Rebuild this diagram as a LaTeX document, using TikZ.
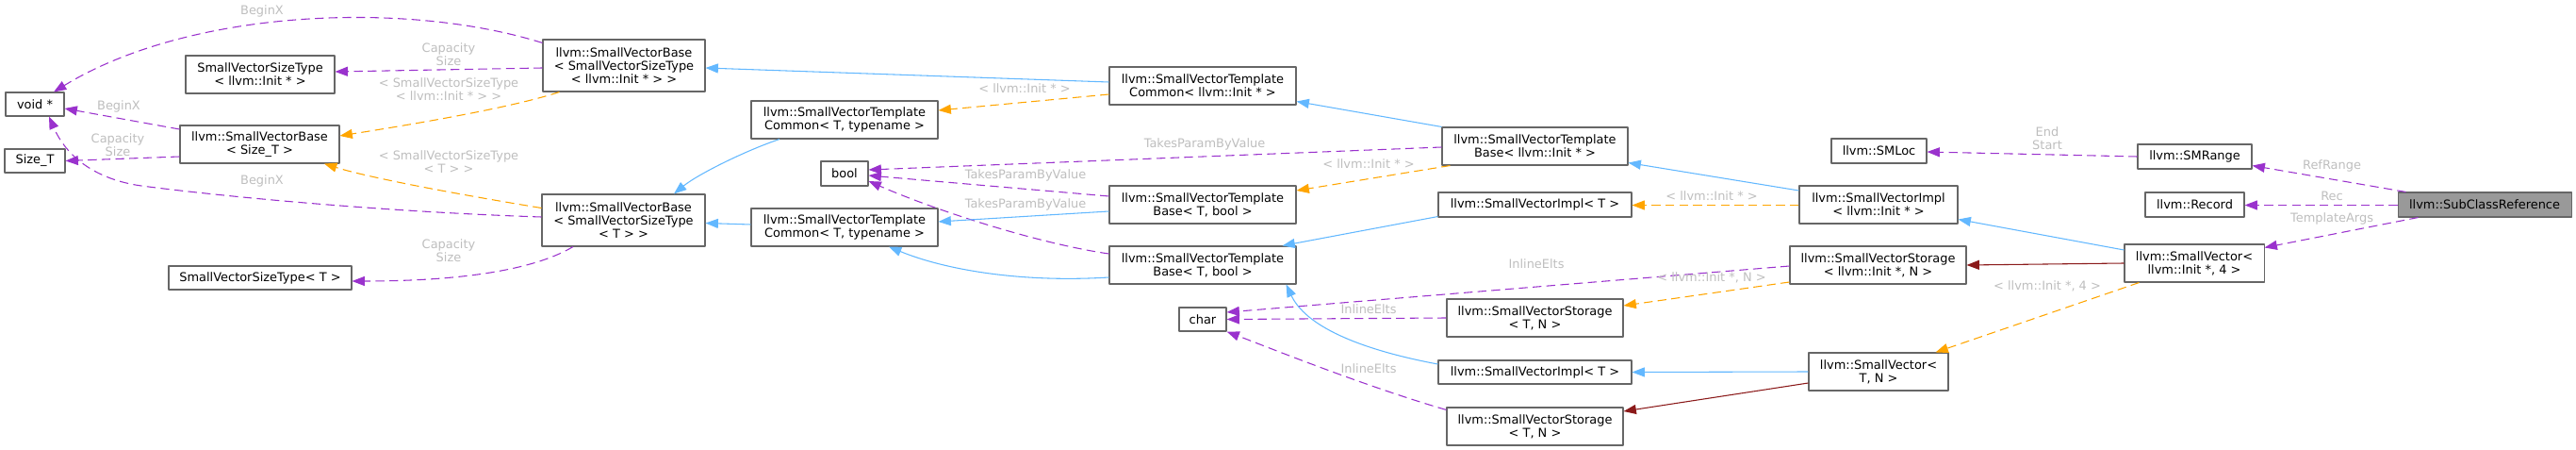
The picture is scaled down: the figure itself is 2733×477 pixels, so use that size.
\documentclass[tikz,border=0pt]{standalone}
\usepackage{fontspec}
\setmainfont{DejaVu Sans}
\usetikzlibrary{arrows.meta}
\definecolor{usagec}{HTML}{9A32CD}
\definecolor{instc}{HTML}{FFA500}
\definecolor{inhc}{HTML}{63B8FF}
\definecolor{privc}{HTML}{8B1A1A}
\definecolor{edgec}{HTML}{BEBEBE}
\definecolor{boxc}{HTML}{666666}
\definecolor{mainc}{HTML}{999999}
\newcommand{\nodefont}{\fontsize{9.7}{10.5}\selectfont}
\begin{document}
\begin{tikzpicture}[x=0.75pt,y=-0.75pt,line join=round,>={Triangle[length=10pt,width=7.5pt]},
	cls/.style={draw=boxc,line width=0.8pt,fill=white,inner sep=0pt,align=center,font=\nodefont},
	usage/.style={->,usagec,line width=0.8pt,dash pattern=on 7pt off 4pt},
	inst/.style={->,instc,line width=0.8pt,dash pattern=on 7pt off 4pt},
	inh/.style={->,inhc,line width=0.8pt},
	priv/.style={->,privc,line width=0.8pt},
	lbl/.style={text=edgec,align=center,inner sep=0pt,font=\nodefont}]
		\def\px{0.75pt}
		\useasboundingbox (0,0) rectangle (2733,477);
		% classes
		\node[cls,minimum width=62*\px,minimum height=25*\px] (voidp) at (37,110.5) {void *};
		\node[cls,minimum width=64*\px,minimum height=25*\px] (sizet) at (37,170.5) {Size\_T};
		\node[cls,minimum width=158*\px,minimum height=40*\px] (svstInit) at (276,79) {SmallVectorSizeType\\< llvm::Init * >};
		\node[cls,minimum width=169*\px,minimum height=40*\px] (svbSizeT) at (275.5,153) {llvm::SmallVectorBase\\< Size\_T >};
		\node[cls,minimum width=194*\px,minimum height=25*\px] (svstT) at (276,294.5) {SmallVectorSizeType< T >};
		\node[cls,minimum width=172*\px,minimum height=55*\px] (svbInit) at (662,69.5) {llvm::SmallVectorBase\\< SmallVectorSizeType\\< llvm::Init * > >};
		\node[cls,minimum width=173*\px,minimum height=55*\px] (svbT) at (661.5,233.5) {llvm::SmallVectorBase\\< SmallVectorSizeType\\< T > >};
		\node[cls,minimum width=198*\px,minimum height=40*\px] (svtcT) at (896,127) {llvm::SmallVectorTemplate\\Common< T, typename >};
		\node[cls,minimum width=50*\px,minimum height=26*\px] (bool) at (896,184) {bool};
		\node[cls,minimum width=198*\px,minimum height=40*\px] (svtcTb) at (896,241) {llvm::SmallVectorTemplate\\Common< T, typename >};
		\node[cls,minimum width=198*\px,minimum height=40*\px] (svtcInit) at (1276,91) {llvm::SmallVectorTemplate\\Common< llvm::Init * >};
		\node[cls,minimum width=198*\px,minimum height=40*\px] (svtbT) at (1276,217) {llvm::SmallVectorTemplate\\Base< T, bool >};
		\node[cls,minimum width=198*\px,minimum height=40*\px] (svtbTb) at (1276,281) {llvm::SmallVectorTemplate\\Base< T, bool >};
		\node[cls,minimum width=50*\px,minimum height=25*\px] (char) at (1276,338.5) {char};
		\node[cls,minimum width=197*\px,minimum height=40*\px] (svtbInit) at (1628.5,155) {llvm::SmallVectorTemplate\\Base< llvm::Init * >};
		\node[cls,minimum width=205*\px,minimum height=26*\px] (sviT) at (1628.5,217) {llvm::SmallVectorImpl< T >};
		\node[cls,minimum width=187*\px,minimum height=40*\px] (svsTN) at (1628.5,337) {llvm::SmallVectorStorage\\< T, N >};
		\node[cls,minimum width=205*\px,minimum height=25*\px] (sviTb) at (1628.5,394.5) {llvm::SmallVectorImpl< T >};
		\node[cls,minimum width=187*\px,minimum height=40*\px] (svsTNb) at (1628.5,452) {llvm::SmallVectorStorage\\< T, N >};
		\node[cls,minimum width=101*\px,minimum height=26*\px] (smloc) at (1993.5,160) {llvm::SMLoc};
		\node[cls,minimum width=168*\px,minimum height=40*\px] (sviInit) at (1993,217) {llvm::SmallVectorImpl\\< llvm::Init * >};
		\node[cls,minimum width=187*\px,minimum height=40*\px] (svsInitN) at (1992.5,281) {llvm::SmallVectorStorage\\< llvm::Init *, N >};
		\node[cls,minimum width=148*\px,minimum height=40*\px] (svTN) at (1993,394) {llvm::SmallVector<\\T, N >};
		\node[cls,minimum width=121*\px,minimum height=26*\px] (smrange) at (2328.5,166) {llvm::SMRange};
		\node[cls,minimum width=105*\px,minimum height=26*\px] (record) at (2328.5,217) {llvm::Record};
		\node[cls,minimum width=148*\px,minimum height=40*\px] (svInit4) at (2328,279) {llvm::SmallVector<\\llvm::Init *, 4 >};
		\node[cls,fill=mainc,minimum width=184*\px,minimum height=26*\px] (subclass) at (2636,217) {llvm::SubClassReference};
		% members
		\draw[usage] ([shift={(0,4)}]svbInit.north west) .. controls (430,0) and (200,10) .. ([shift={(20,0)}]voidp.north);
		\draw[usage] ([shift={(0,2.5)}]svbInit.west) -- ([shift={(0,-3)}]svstInit.east);
		\draw[usage] ([shift={(0,-16)}]svbSizeT.west) -- ([shift={(0,4.5)}]voidp.east);
		\draw[usage] ([shift={(0,13)}]svbSizeT.west) -- (sizet.east);
		\draw[usage] ([shift={(0,-3.5)}]svbT.west) .. controls (420,225) and (250,210) .. (150,197) .. controls (100,190) and (70,165) .. ([shift={(15,0)}]voidp.south);
		\draw[usage] ([shift={(-53.5,0)}]svbT.south) .. controls (560,290) and (470,298) .. ([shift={(0,3.5)}]svstT.east);
		\draw[usage] ([shift={(0,1)}]svtbInit.west) -- ([shift={(0,-4)}]bool.east);
		\draw[usage] ([shift={(0,-9)}]svtbT.west) -- ([shift={(0,2)}]bool.east);
		\draw[usage] ([shift={(0,-12)}]svtbTb.west) .. controls (1100,258) and (990,222) .. ([shift={(0,8)}]bool.east);
		\draw[usage] ([shift={(0,1)}]svsInitN.west) -- ([shift={(0,-7.5)}]char.east);
		\draw[usage] (svsTN.west) -- (char.east);
		\draw[usage] ([shift={(0,3)}]svsTNb.north west) .. controls (1450,410) and (1350,370) .. (char.south east);
		\draw[usage] (smrange.west) -- ([shift={(0,1)}]smloc.east);
		\draw[usage] ([shift={(9,0)}]subclass.north west) -- ([shift={(0,-4)}]smrange.south east);
		\draw[usage] ([shift={(0,0.5)}]subclass.west) -- ([shift={(0,0.5)}]record.east);
		\draw[usage] ([shift={(22,0)}]subclass.south west) -- ([shift={(0,4)}]svInit4.north east);
		% template instances
		\draw[inst] ([shift={(18,0)}]svbInit.south west) .. controls (540,115) and (430,133) .. ([shift={(0,-9)}]svbSizeT.east);
		\draw[inst] ([shift={(0,-13)}]svbT.west) .. controls (480,205) and (390,188) .. ([shift={(68.5,0)}]svbSizeT.south);
		\draw[inst] ([shift={(0,9)}]svtcInit.west) -- ([shift={(0,-10)}]svtcT.east);
		\draw[inst] ([shift={(9,0)}]svtbInit.south west) -- ([shift={(0,-15)}]svtbT.east);
		\draw[inst] ([shift={(0,0.5)}]sviInit.west) -- ([shift={(0,0.5)}]sviT.east);
		\draw[inst] ([shift={(0,18)}]svsInitN.west) -- ([shift={(0,-13)}]svsTN.east);
		\draw[inst] ([shift={(16,0)}]svInit4.south west) -- ([shift={(-14,0)}]svTN.north east);
		% inheritance
		\draw[inh] ([shift={(0,-4)}]svtcInit.west) -- ([shift={(0,2.5)}]svbInit.east);
		\draw[inh] ([shift={(0,-3)}]svtcTb.west) -- ([shift={(0,3)}]svbT.east);
		\draw[inh] ([shift={(-69,0)}]svtcT.south) .. controls (790,160) and (740,185) .. ([shift={(53.5,0)}]svbT.north);
		\draw[inh] (svtbInit.north west) -- ([shift={(0,-4)}]svtcInit.south east);
		\draw[inh] ([shift={(0,7)}]svtbT.west) -- ([shift={(0,-6)}]svtcTb.east);
		\draw[inh] ([shift={(0,13)}]svtbTb.west) .. controls (1080,300) and (1000,285) .. ([shift={(47,0)}]svtcTb.south);
		\draw[inh] ([shift={(0,-15)}]sviInit.west) -- ([shift={(0,-3)}]svtbInit.south east);
		\draw[inh] ([shift={(0,-1)}]sviT.south west) -- ([shift={(-15,0)}]svtbTb.north east);
		\draw[inh] ([shift={(0,-8.5)}]sviTb.west) .. controls (1440,370) and (1385,345) .. ([shift={(-11,0)}]svtbTb.south east);
		\draw[inh] ([shift={(0,-14)}]svInit4.west) -- ([shift={(0,-5)}]sviInit.south east);
		\draw[inh] (svTN.west) -- (sviTb.east);
		\draw[priv] (svInit4.west) -- (svsInitN.east);
		\draw[priv] ([shift={(0,12)}]svTN.west) -- ([shift={(0,-16)}]svsTNb.east);
		% edge labels
		\node[lbl] (lbA) at (278,12) {BeginX};
		\node[lbl] (lcA) at (476,57.5) {Capacity\\Size};
		\node[lbl] (liA) at (476,95) {< SmallVectorSizeType\\< llvm::Init * > >};
		\node[lbl] (lbB) at (126,113) {BeginX};
		\node[lbl] (lcB) at (125,154) {Capacity\\Size};
		\node[lbl] (liB) at (476,172) {< SmallVectorSizeType\\< T > >};
		\node[lbl] (lbC) at (278,192) {BeginX};
		\node[lbl] (lcC) at (476,265.5) {Capacity\\Size};
		\node[lbl] (liC) at (1087,94) {< llvm::Init * >};
		\node[lbl] (ltA) at (1278,153) {TakesParamByValue};
		\node[lbl] (ltB) at (1088,186) {TakesParamByValue};
		\node[lbl] (ltC) at (1088,217) {TakesParamByValue};
		\node[lbl] (liD) at (1452,174) {< llvm::Init * >};
		\node[lbl] (liE) at (1816,208) {< llvm::Init * >};
		\node[lbl] (leA) at (1630,280) {InlineElts};
		\node[lbl] (liF) at (1816,294) {< llvm::Init *, N >};
		\node[lbl] (leB) at (1452,328) {InlineElts};
		\node[lbl] (leC) at (1452,391) {InlineElts};
		\node[lbl] (lse) at (2172,146.5) {End\\Start};
		\node[lbl] (lrr) at (2474,176) {RefRange};
		\node[lbl] (lrec) at (2474,208) {Rec};
		\node[lbl] (lta) at (2474,232) {TemplateArgs};
		\node[lbl] (liG) at (2172,303) {< llvm::Init *, 4 >};
\end{tikzpicture}
\end{document}
